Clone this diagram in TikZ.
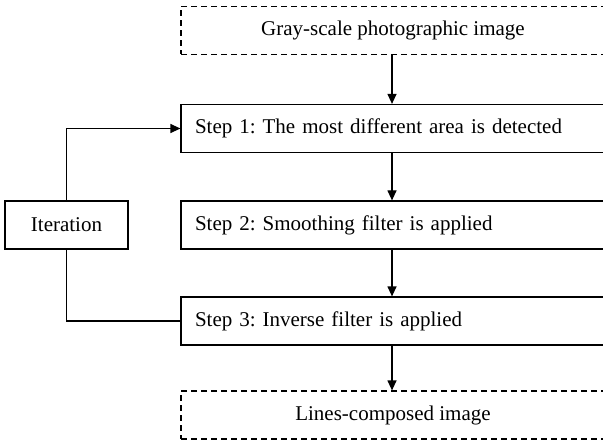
\documentclass[tikz,border=0pt]{standalone}
\usepackage{fontspec}
\setmainfont{Liberation Serif}
\usetikzlibrary{arrows.meta}
\begin{document}
\frenchspacing
\begin{tikzpicture}[x=1pt,y=-1pt,
  label font/.style={font=\fontsize{21}{24}\selectfont},
  box/.style={draw,line width=1.2pt,minimum width=424pt,minimum height=48pt,inner sep=0pt,label font},
  stepbox/.style={box,text width=396pt,align=left},
  io/.style={box,dashed,dash pattern=on 6pt off 4pt},
  itbox/.style={draw,line width=1.2pt,minimum width=123pt,minimum height=48pt,inner sep=0pt,label font},
  flow/.style={line width=1.2pt,-{Triangle[length=10pt,width=9pt]}},
  link/.style={line width=1.2pt}]
\useasboundingbox (0,0) rectangle (603,441);
\clip (0,0) rectangle (603,441);
\node[io] (input) at (393,30.5) {Gray-scale photographic image};
\node[stepbox] (s1) at (393,128.5) {Step 1: The most different area is detected};
\node[stepbox] (s2) at (393,225) {Step 2: Smoothing filter is applied};
\node[stepbox] (s3) at (393,321) {Step 3: Inverse filter is applied};
\node[io] (output) at (393,415) {Lines-composed image};
\node[itbox] (it) at (66.5,225) {Iteration};
\draw[flow] (input.south -| 392,0) -- (s1.north -| 392,0);
\draw[flow] (s1.south -| 392,0) -- (s2.north -| 392,0);
\draw[flow] (s2.south -| 392,0) -- (s3.north -| 392,0);
\draw[flow] (s3.south -| 392,0) -- (output.north -| 392,0);
\draw[flow] (it.north) |- (s1.west);
\draw[link] (it.south) |- (s3.west);
\end{tikzpicture}
\end{document}
